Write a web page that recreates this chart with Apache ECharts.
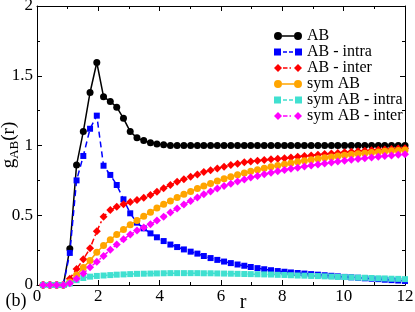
<!DOCTYPE html>
<html><head><meta charset="utf-8">
<script src="https://cdn.jsdelivr.net/npm/echarts@6/dist/echarts.min.js"></script>
<style>html,body{margin:0;padding:0;background:#fff}#c{width:415px;height:312px}</style>
</head><body><div id="c"></div>
<script>
// r values (x)
const r = [0.20,0.42,0.64,0.86,1.07,1.29,1.51,1.73,1.95,2.17,
           2.39,2.60,2.82,3.04,3.26,3.48,3.70,3.91,4.13,4.35,
           4.57,4.79,5.01,5.23,5.44,5.66,5.88,6.10,6.32,6.54,
           6.76,6.97,7.19,7.41,7.63,7.85,8.07,8.28,8.50,8.72,
           8.94,9.16,9.38,9.60,9.81,10.03,10.25,10.47,10.69,10.91,
           11.13,11.34,11.56,11.78,12.00];
const gAB = [0,0,0,0,0.26,0.86,1.10,1.38,1.595,1.35,
             1.315,1.275,1.195,1.10,1.055,1.035,1.02,1.01,1.005,1.0,
             1.0,1.0,1.0,1.0,1.0,1.0,1.0,1.0,1.0,1.0,
             1.0,1.0,1.0,1.0,1.0,1.0,1.0,1.0,1.0,1.0,
             1.0,1.0,1.0,1.0,1.0,1.0,1.0,1.0,1.0,1.0,
             1.0,1.0,1.0,1.0,1.0];
const gABintra = [0,0,0,0,0.23,0.75,0.925,1.12,1.214,0.855,
                  0.789,0.717,0.614,0.514,0.447,0.406,0.37,0.342,0.315,0.29,
                  0.272,0.255,0.239,0.225,0.208,0.193,0.18,0.168,0.157,0.147,
                  0.138,0.129,0.121,0.113,0.106,0.1,0.095,0.09,0.086,0.082,
                  0.078,0.074,0.07,0.066,0.062,0.058,0.055,0.052,0.048,0.045,
                  0.042,0.038,0.035,0.032,0.029];
const gABinter = [0,0,0,0,0.045,0.115,0.184,0.263,0.385,0.49,
                  0.538,0.561,0.578,0.595,0.609,0.625,0.645,0.668,0.693,0.717,
                  0.74,0.758,0.776,0.793,0.81,0.823,0.836,0.848,0.86,0.87,
                  0.88,0.886,0.891,0.896,0.901,0.905,0.909,0.914,0.919,0.924,
                  0.929,0.934,0.939,0.943,0.947,0.951,0.955,0.959,0.962,0.966,
                  0.969,0.972,0.975,0.978,0.981];
const symAB = [0,0,0,0,0.022,0.072,0.125,0.175,0.235,0.283,
               0.325,0.362,0.398,0.432,0.462,0.492,0.522,0.552,0.579,0.603,
               0.627,0.65,0.671,0.692,0.71,0.728,0.745,0.761,0.776,0.79,
               0.803,0.815,0.826,0.837,0.847,0.857,0.866,0.875,0.883,0.891,
               0.898,0.905,0.912,0.918,0.924,0.93,0.935,0.94,0.945,0.95,
               0.954,0.958,0.962,0.965,0.968];
const symABintra = [0,0,0,0,0.01,0.035,0.05,0.06,0.065,0.068,
                    0.071,0.074,0.076,0.078,0.08,0.081,0.082,0.083,0.084,0.085,
                    0.085,0.085,0.085,0.085,0.084,0.084,0.083,0.082,0.081,0.08,
                    0.079,0.078,0.077,0.076,0.075,0.073,0.072,0.07,0.068,0.067,
                    0.065,0.064,0.062,0.06,0.058,0.057,0.055,0.053,0.052,0.05,
                    0.048,0.047,0.045,0.044,0.042];
const symABinter = [0,0,0,0,0.012,0.045,0.082,0.127,0.167,0.208,
                    0.253,0.29,0.328,0.362,0.39,0.412,0.435,0.463,0.49,0.52,
                    0.549,0.577,0.603,0.627,0.65,0.671,0.691,0.709,0.726,0.742,
                    0.757,0.77,0.782,0.794,0.805,0.815,0.824,0.833,0.841,0.849,
                    0.857,0.864,0.871,0.878,0.885,0.891,0.897,0.903,0.909,0.914,
                    0.919,0.924,0.929,0.933,0.937];
const seriesNames = ['AB','AB - intra','AB - inter','sym AB','sym AB - intra','sym AB - inter'];
const seriesValues = [gAB, gABintra, gABinter, symAB, symABintra, symABinter];

const FONT = "'Liberation Serif','Times New Roman',serif";
const pCircle = 'path://M0,4A4,4,0,1,0,8,4A4,4,0,1,0,0,4ZM20,4A4,4,0,1,0,28,4A4,4,0,1,0,20,4ZM8,3.25H20V4.75H8Z';
const pSquare = 'path://M0,0.5H7V7.5H0ZM21,0.5H28V7.5H21ZM9,3.25H13V4.75H9ZM15,3.25H19V4.75H15Z';
const pDiamond = 'path://M4,0L8,4L4,8L0,4ZM24,0L28,4L24,8L20,4ZM9,3.25H13.5V4.75H9ZM15.5,3.25H17V4.75H15.5Z';

const styles = [
  {color:'#000000', symbol:'circle', size:7, type:'solid', icon:pCircle},
  {color:'#0000ff', symbol:'rect', size:6, type:[6,4], icon:pSquare},
  {color:'#ff0000', symbol:'diamond', size:8, type:[6,3,2,3], icon:pDiamond},
  {color:'#ffa500', symbol:'circle', size:7, type:'solid', icon:pCircle},
  {color:'#40e0d0', symbol:'rect', size:6, type:[6,4], icon:pSquare},
  {color:'#ff00ff', symbol:'diamond', size:8, type:[6,3,2,3], icon:pDiamond}
];

const series = seriesNames.map((name, i) => ({
  name: name,
  type: 'line',
  data: r.map((x, k) => [x, seriesValues[i][k]]),
  symbol: styles[i].symbol,
  symbolSize: styles[i].size,
  showSymbol: true,
  showAllSymbol: true,
  clip: false,
  lineStyle: {color: styles[i].color, width: 1.5, type: styles[i].type},
  itemStyle: {color: styles[i].color, borderWidth: 0},
  emphasis: {disabled: true}
}));

const axisCommon = {
  axisLine: {show: true, onZero: false, lineStyle: {color:'#000', width: 1}},
  axisTick: {show: true, inside: true, length: 5, lineStyle: {color:'#000', width: 1}},
  minorTick: {show: true, splitNumber: 2, length: 3, lineStyle: {color:'#000', width: 1}},
  splitLine: {show: false},
  minorSplitLine: {show: false}
};

const chart = echarts.init(document.getElementById('c'), null, {renderer: 'canvas'});
chart.setOption({
  animation: false,
  backgroundColor: '#ffffff',
  grid: {left: 37, right: 10, top: 6, bottom: 27, containLabel: false, outerBoundsMode: 'none'},
  xAxis: [
    Object.assign({type:'value', min:0, max:12, interval:2, position:'bottom',
      axisLabel: {show: true, color:'#000', fontFamily: FONT, fontSize: 17, margin: 3}}, axisCommon),
    Object.assign({type:'value', min:0, max:12, interval:2, position:'top',
      axisLabel: {show: false}}, axisCommon)
  ],
  yAxis: [
    Object.assign({type:'value', min:0, max:2, interval:0.5, position:'left',
      axisLabel: {show: true, color:'#000', fontFamily: FONT, fontSize: 17, margin: 4}}, axisCommon),
    Object.assign({type:'value', min:0, max:2, interval:0.5, position:'right',
      axisLabel: {show: false}}, axisCommon)
  ],
  legend: {
    orient: 'vertical',
    left: 274, top: 28,
    itemWidth: 28, itemHeight: 8, itemGap: 0,
    selectedMode: false,
    padding: 0,
    itemStyle: {borderWidth: 0},
    textStyle: {fontFamily: FONT, fontSize: 16, color:'#000', lineHeight: 16},
    data: seriesNames.map((n, i) => ({name: n, icon: styles[i].icon}))
  },
  graphic: [
    {type:'text', x: 15, y: 145, rotation: Math.PI/2,
     style: {text: '{m|g}{s|AB}{m|(r)}', align:'center', verticalAlign:'middle',
       rich: {
         m: {fontFamily: FONT, fontSize: 19, fill:'#000', lineHeight: 20, verticalAlign:'top'},
         s: {fontFamily: FONT, fontSize: 13, fill:'#000', lineHeight: 31}
       }}},
    {type:'text', x: 243, y: 303, style: {text:'r', fontFamily: FONT, fontSize: 20, fill:'#000', align:'center', verticalAlign:'middle'}},
    {type:'text', x: 16, y: 301, style: {text:'(b)', fontFamily: FONT, fontSize: 18, fill:'#000', align:'center', verticalAlign:'middle'}}
  ],
  series: series
});
</script>
</body></html>
